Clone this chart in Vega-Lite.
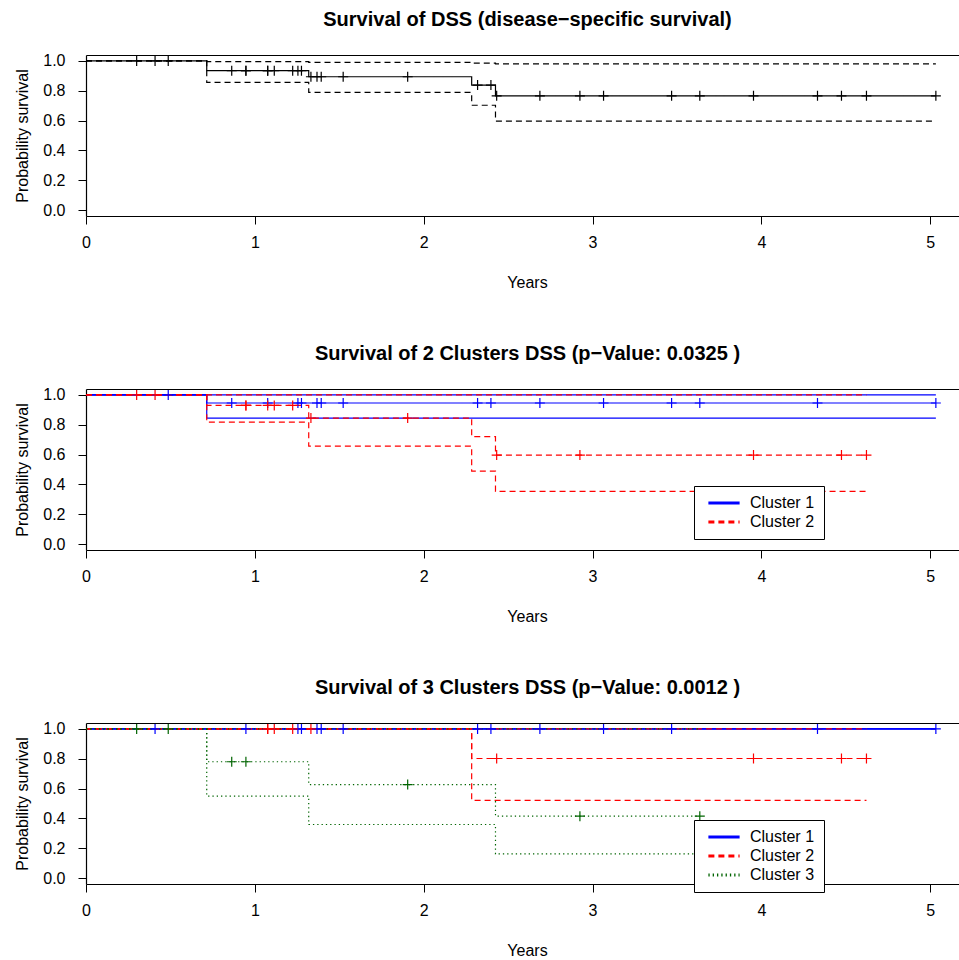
{
  "$schema": "https://vega.github.io/schema/vega-lite/v6.json",
  "padding": {"top": 9, "left": 14, "right": 0, "bottom": 0},
  "spacing": 53,
  "config": {
    "view": {"stroke": null},
    "font": "Liberation Sans",
    "axis": {
      "labelFont": "Liberation Sans",
      "labelFontSize": 16,
      "labelColor": "black",
      "titleFont": "Liberation Sans",
      "titleFontSize": 16,
      "titleFontWeight": "normal",
      "titleColor": "black",
      "domainColor": "black",
      "domainWidth": 1.2,
      "tickColor": "black",
      "tickSize": 8,
      "grid": false
    },
    "axisX": {"labelPadding": 10, "titlePadding": 24, "labelFlush": false},
    "axisY": {"labelPadding": 13, "titlePadding": 12, "labelFlush": false},
    "title": {
      "font": "Liberation Sans",
      "fontSize": 20,
      "fontWeight": "bold",
      "color": "black",
      "anchor": "middle",
      "baseline": "alphabetic",
      "offset": 23,
      "dx": 5
    },
    "legend": {
      "symbolType": "M-2.5,0L2.5,0",
      "symbolSize": 156,
      "symbolStrokeWidth": 3,
      "symbolOffset": 13,
      "labelFont": "Liberation Sans",
      "labelFontSize": 16,
      "labelColor": "black",
      "padding": 9,
      "rowPadding": 3,
      "labelOffset": 18,
      "fillColor": "white",
      "strokeColor": "black"
    }
  },
  "datasets": {
    "dss_curve": [
      {"band": "estimate", "t": 0, "s": 1},
      {"band": "estimate", "t": 0.715, "s": 0.935},
      {"band": "estimate", "t": 1.319, "s": 0.894},
      {"band": "estimate", "t": 2.284, "s": 0.838},
      {"band": "estimate", "t": 2.425, "s": 0.766},
      {"band": "estimate", "t": 5.033, "s": 0.766},
      {"band": "upper", "t": 0, "s": 1},
      {"band": "upper", "t": 0.715, "s": 0.995},
      {"band": "upper", "t": 1.319, "s": 0.99},
      {"band": "upper", "t": 2.284, "s": 0.985},
      {"band": "upper", "t": 2.425, "s": 0.98},
      {"band": "upper", "t": 5.033, "s": 0.98},
      {"band": "lower", "t": 0, "s": 1},
      {"band": "lower", "t": 0.715, "s": 0.856},
      {"band": "lower", "t": 1.319, "s": 0.789},
      {"band": "lower", "t": 2.284, "s": 0.703},
      {"band": "lower", "t": 2.425, "s": 0.597},
      {"band": "lower", "t": 5.033, "s": 0.597}
    ],
    "dss_cens": [
      {"t": 0.300, "s": 1}, {"t": 0.409, "s": 1}, {"t": 0.487, "s": 1},
      {"t": 0.863, "s": 0.935}, {"t": 0.947, "s": 0.935}, {"t": 0.947, "s": 0.935},
      {"t": 1.076, "s": 0.935}, {"t": 1.076, "s": 0.935}, {"t": 1.115, "s": 0.935},
      {"t": 1.224, "s": 0.935}, {"t": 1.255, "s": 0.935}, {"t": 1.276, "s": 0.935},
      {"t": 1.332, "s": 0.894}, {"t": 1.368, "s": 0.894}, {"t": 1.393, "s": 0.894},
      {"t": 1.523, "s": 0.894}, {"t": 1.905, "s": 0.894},
      {"t": 2.319, "s": 0.838}, {"t": 2.398, "s": 0.838},
      {"t": 2.432, "s": 0.766}, {"t": 2.688, "s": 0.766}, {"t": 2.925, "s": 0.766},
      {"t": 3.065, "s": 0.766}, {"t": 3.468, "s": 0.766}, {"t": 3.635, "s": 0.766},
      {"t": 3.953, "s": 0.766}, {"t": 4.332, "s": 0.766}, {"t": 4.474, "s": 0.766},
      {"t": 4.622, "s": 0.766}, {"t": 5.033, "s": 0.766}
    ],
    "k2_curve": [
      {"cluster": "Cluster 1", "band": "estimate", "t": 0, "s": 1},
      {"cluster": "Cluster 1", "band": "estimate", "t": 0.715, "s": 0.946},
      {"cluster": "Cluster 1", "band": "estimate", "t": 5.033, "s": 0.946},
      {"cluster": "Cluster 1", "band": "upper", "t": 0, "s": 1},
      {"cluster": "Cluster 1", "band": "upper", "t": 5.033, "s": 1},
      {"cluster": "Cluster 1", "band": "lower", "t": 0, "s": 1},
      {"cluster": "Cluster 1", "band": "lower", "t": 0.715, "s": 0.845},
      {"cluster": "Cluster 1", "band": "lower", "t": 5.033, "s": 0.845},
      {"cluster": "Cluster 2", "band": "estimate", "t": 0, "s": 1},
      {"cluster": "Cluster 2", "band": "estimate", "t": 0.715, "s": 0.930},
      {"cluster": "Cluster 2", "band": "estimate", "t": 1.319, "s": 0.845},
      {"cluster": "Cluster 2", "band": "estimate", "t": 2.284, "s": 0.720},
      {"cluster": "Cluster 2", "band": "estimate", "t": 2.425, "s": 0.597},
      {"cluster": "Cluster 2", "band": "estimate", "t": 4.622, "s": 0.597},
      {"cluster": "Cluster 2", "band": "upper", "t": 0, "s": 1},
      {"cluster": "Cluster 2", "band": "upper", "t": 4.622, "s": 1},
      {"cluster": "Cluster 2", "band": "lower", "t": 0, "s": 1},
      {"cluster": "Cluster 2", "band": "lower", "t": 0.715, "s": 0.818},
      {"cluster": "Cluster 2", "band": "lower", "t": 1.319, "s": 0.657},
      {"cluster": "Cluster 2", "band": "lower", "t": 2.284, "s": 0.489},
      {"cluster": "Cluster 2", "band": "lower", "t": 2.425, "s": 0.353},
      {"cluster": "Cluster 2", "band": "lower", "t": 4.622, "s": 0.353}
    ],
    "k2_cens": [
      {"cluster": "Cluster 1", "t": 0.487, "s": 1},
      {"cluster": "Cluster 1", "t": 0.863, "s": 0.946},
      {"cluster": "Cluster 1", "t": 1.076, "s": 0.946},
      {"cluster": "Cluster 1", "t": 1.255, "s": 0.946},
      {"cluster": "Cluster 1", "t": 1.276, "s": 0.946},
      {"cluster": "Cluster 1", "t": 1.368, "s": 0.946},
      {"cluster": "Cluster 1", "t": 1.393, "s": 0.946},
      {"cluster": "Cluster 1", "t": 1.523, "s": 0.946},
      {"cluster": "Cluster 1", "t": 2.319, "s": 0.946},
      {"cluster": "Cluster 1", "t": 2.398, "s": 0.946},
      {"cluster": "Cluster 1", "t": 2.688, "s": 0.946},
      {"cluster": "Cluster 1", "t": 3.065, "s": 0.946},
      {"cluster": "Cluster 1", "t": 3.468, "s": 0.946},
      {"cluster": "Cluster 1", "t": 3.635, "s": 0.946},
      {"cluster": "Cluster 1", "t": 4.332, "s": 0.946},
      {"cluster": "Cluster 1", "t": 5.033, "s": 0.946},
      {"cluster": "Cluster 2", "t": 0.300, "s": 1},
      {"cluster": "Cluster 2", "t": 0.409, "s": 1},
      {"cluster": "Cluster 2", "t": 0.947, "s": 0.930},
      {"cluster": "Cluster 2", "t": 0.947, "s": 0.930},
      {"cluster": "Cluster 2", "t": 1.076, "s": 0.930},
      {"cluster": "Cluster 2", "t": 1.115, "s": 0.930},
      {"cluster": "Cluster 2", "t": 1.224, "s": 0.930},
      {"cluster": "Cluster 2", "t": 1.332, "s": 0.845},
      {"cluster": "Cluster 2", "t": 1.905, "s": 0.845},
      {"cluster": "Cluster 2", "t": 2.432, "s": 0.597},
      {"cluster": "Cluster 2", "t": 2.925, "s": 0.597},
      {"cluster": "Cluster 2", "t": 3.953, "s": 0.597},
      {"cluster": "Cluster 2", "t": 4.474, "s": 0.597},
      {"cluster": "Cluster 2", "t": 4.622, "s": 0.597}
    ],
    "k3_curve": [
      {"cluster": "Cluster 1", "band": "estimate", "t": 0, "s": 1},
      {"cluster": "Cluster 1", "band": "estimate", "t": 5.033, "s": 1},
      {"cluster": "Cluster 1", "band": "upper", "t": 0, "s": 1},
      {"cluster": "Cluster 1", "band": "upper", "t": 5.033, "s": 1},
      {"cluster": "Cluster 1", "band": "lower", "t": 0, "s": 1},
      {"cluster": "Cluster 1", "band": "lower", "t": 5.033, "s": 1},
      {"cluster": "Cluster 2", "band": "estimate", "t": 0, "s": 1},
      {"cluster": "Cluster 2", "band": "estimate", "t": 2.284, "s": 0.802},
      {"cluster": "Cluster 2", "band": "estimate", "t": 4.622, "s": 0.802},
      {"cluster": "Cluster 2", "band": "upper", "t": 0, "s": 1},
      {"cluster": "Cluster 2", "band": "upper", "t": 4.622, "s": 1},
      {"cluster": "Cluster 2", "band": "lower", "t": 0, "s": 1},
      {"cluster": "Cluster 2", "band": "lower", "t": 2.284, "s": 0.521},
      {"cluster": "Cluster 2", "band": "lower", "t": 4.622, "s": 0.521},
      {"cluster": "Cluster 3", "band": "estimate", "t": 0, "s": 1},
      {"cluster": "Cluster 3", "band": "estimate", "t": 0.715, "s": 0.780},
      {"cluster": "Cluster 3", "band": "estimate", "t": 1.319, "s": 0.627},
      {"cluster": "Cluster 3", "band": "estimate", "t": 2.425, "s": 0.415},
      {"cluster": "Cluster 3", "band": "estimate", "t": 3.635, "s": 0.415},
      {"cluster": "Cluster 3", "band": "upper", "t": 0, "s": 1},
      {"cluster": "Cluster 3", "band": "upper", "t": 3.635, "s": 1},
      {"cluster": "Cluster 3", "band": "lower", "t": 0, "s": 1},
      {"cluster": "Cluster 3", "band": "lower", "t": 0.715, "s": 0.550},
      {"cluster": "Cluster 3", "band": "lower", "t": 1.319, "s": 0.359},
      {"cluster": "Cluster 3", "band": "lower", "t": 2.425, "s": 0.162},
      {"cluster": "Cluster 3", "band": "lower", "t": 3.635, "s": 0.162}
    ],
    "k3_cens": [
      {"cluster": "Cluster 1", "t": 0.409, "s": 1},
      {"cluster": "Cluster 1", "t": 0.947, "s": 1},
      {"cluster": "Cluster 1", "t": 1.255, "s": 1},
      {"cluster": "Cluster 1", "t": 1.276, "s": 1},
      {"cluster": "Cluster 1", "t": 1.368, "s": 1},
      {"cluster": "Cluster 1", "t": 1.393, "s": 1},
      {"cluster": "Cluster 1", "t": 1.523, "s": 1},
      {"cluster": "Cluster 1", "t": 2.319, "s": 1},
      {"cluster": "Cluster 1", "t": 2.398, "s": 1},
      {"cluster": "Cluster 1", "t": 2.688, "s": 1},
      {"cluster": "Cluster 1", "t": 3.065, "s": 1},
      {"cluster": "Cluster 1", "t": 3.468, "s": 1},
      {"cluster": "Cluster 1", "t": 4.332, "s": 1},
      {"cluster": "Cluster 1", "t": 5.033, "s": 1},
      {"cluster": "Cluster 2", "t": 1.076, "s": 1},
      {"cluster": "Cluster 2", "t": 1.076, "s": 1},
      {"cluster": "Cluster 2", "t": 1.115, "s": 1},
      {"cluster": "Cluster 2", "t": 1.224, "s": 1},
      {"cluster": "Cluster 2", "t": 1.332, "s": 1},
      {"cluster": "Cluster 2", "t": 2.432, "s": 0.802},
      {"cluster": "Cluster 2", "t": 3.953, "s": 0.802},
      {"cluster": "Cluster 2", "t": 4.474, "s": 0.802},
      {"cluster": "Cluster 2", "t": 4.622, "s": 0.802},
      {"cluster": "Cluster 3", "t": 0.300, "s": 1},
      {"cluster": "Cluster 3", "t": 0.487, "s": 1},
      {"cluster": "Cluster 3", "t": 0.863, "s": 0.780},
      {"cluster": "Cluster 3", "t": 0.947, "s": 0.780},
      {"cluster": "Cluster 3", "t": 1.905, "s": 0.627},
      {"cluster": "Cluster 3", "t": 2.925, "s": 0.415},
      {"cluster": "Cluster 3", "t": 3.635, "s": 0.415}
    ]
  },
  "vconcat": [
    {
      "width": 873,
      "height": 161,
      "title": {"text": "Survival of DSS (disease\u2212specific survival)"},
      "encoding": {
        "x": {"field": "t", "type": "quantitative", "scale": {"domain": [0, 5.17], "nice": false, "zero": false}, "axis": {"orient": "bottom", "values": [0, 1, 2, 3, 4, 5], "title": "Years", "titleX": 441}},
        "y": {"field": "s", "type": "quantitative", "scale": {"domain": [-0.04, 1.04], "nice": false, "zero": false}, "axis": {"values": [0, 0.2, 0.4, 0.6, 0.8, 1], "format": ".1f", "title": "Probability survival"}}
      },
      "layer": [
        {
          "data": {"name": "dss_curve"},
          "mark": {"type": "line", "interpolate": "step-after", "strokeWidth": 1.2, "color": "black"},
          "encoding": {
            "strokeDash": {"field": "band", "type": "nominal", "scale": {"domain": ["estimate", "upper", "lower"], "range": [[1, 0], [6, 4], [6, 4]]}, "legend": null}
          }
        },
        {
          "data": {"name": "dss_cens"},
          "mark": {"type": "point", "shape": "M-1,0L1,0M0,-1L0,1", "filled": false, "size": 100, "strokeWidth": 1.2, "color": "black", "opacity": 1},
          "encoding": {
            "x": {"field": "t", "type": "quantitative", "axis": {"orient": "top", "labels": false, "ticks": false, "title": null, "domain": true}}
          }
        }
      ]
    },
    {
      "width": 873,
      "height": 161,
      "title": {"text": "Survival of 2 Clusters DSS (p\u2212Value: 0.0325 )"},
      "encoding": {
        "x": {"field": "t", "type": "quantitative", "scale": {"domain": [0, 5.17], "nice": false, "zero": false}, "axis": {"orient": "bottom", "values": [0, 1, 2, 3, 4, 5], "title": "Years", "titleX": 441}},
        "y": {"field": "s", "type": "quantitative", "scale": {"domain": [-0.04, 1.04], "nice": false, "zero": false}, "axis": {"values": [0, 0.2, 0.4, 0.6, 0.8, 1], "format": ".1f", "title": "Probability survival"}}
      },
      "layer": [
        {
          "data": {"name": "k2_curve"},
          "mark": {"type": "line", "interpolate": "step-after", "strokeWidth": 1.2},
          "encoding": {
            "detail": {"field": "band", "type": "nominal"},
            "color": {"field": "cluster", "type": "nominal", "scale": {"domain": ["Cluster 1", "Cluster 2"], "range": ["#0000ff", "#ff0000"]}, "legend": {"orient": "none", "legendX": 608, "legendY": 97, "title": null, "zindex": 1}},
            "strokeDash": {"field": "cluster", "type": "nominal", "scale": {"domain": ["Cluster 1", "Cluster 2"], "range": [[1, 0], [6, 4]]}, "legend": {"orient": "none", "legendX": 608, "legendY": 97, "title": null, "zindex": 1}}
          }
        },
        {
          "data": {"name": "k2_cens"},
          "mark": {"type": "point", "shape": "M-1,0L1,0M0,-1L0,1", "filled": false, "size": 100, "strokeWidth": 1.2, "opacity": 1},
          "encoding": {
            "x": {"field": "t", "type": "quantitative", "axis": {"orient": "top", "labels": false, "ticks": false, "title": null, "domain": true}},
            "stroke": {"field": "cluster", "type": "nominal", "scale": {"domain": ["Cluster 1", "Cluster 2"], "range": ["#0000ff", "#ff0000"]}, "legend": null}
          }
        }
      ]
    },
    {
      "width": 873,
      "height": 161,
      "title": {"text": "Survival of 3 Clusters DSS (p\u2212Value: 0.0012 )"},
      "encoding": {
        "x": {"field": "t", "type": "quantitative", "scale": {"domain": [0, 5.17], "nice": false, "zero": false}, "axis": {"orient": "bottom", "values": [0, 1, 2, 3, 4, 5], "title": "Years", "titleX": 441}},
        "y": {"field": "s", "type": "quantitative", "scale": {"domain": [-0.04, 1.04], "nice": false, "zero": false}, "axis": {"values": [0, 0.2, 0.4, 0.6, 0.8, 1], "format": ".1f", "title": "Probability survival"}}
      },
      "layer": [
        {
          "data": {"name": "k3_curve"},
          "mark": {"type": "line", "interpolate": "step-after", "strokeWidth": 1.2},
          "encoding": {
            "detail": {"field": "band", "type": "nominal"},
            "color": {"field": "cluster", "type": "nominal", "scale": {"domain": ["Cluster 1", "Cluster 2", "Cluster 3"], "range": ["#0000ff", "#ff0000", "#006400"]}, "legend": {"orient": "none", "legendX": 608, "legendY": 97, "title": null, "zindex": 1}},
            "strokeDash": {"field": "cluster", "type": "nominal", "scale": {"domain": ["Cluster 1", "Cluster 2", "Cluster 3"], "range": [[1, 0], [6, 4], [1.3, 3]]}, "legend": {"orient": "none", "legendX": 608, "legendY": 97, "title": null, "zindex": 1}}
          }
        },
        {
          "data": {"name": "k3_cens"},
          "mark": {"type": "point", "shape": "M-1,0L1,0M0,-1L0,1", "filled": false, "size": 100, "strokeWidth": 1.2, "opacity": 1},
          "encoding": {
            "x": {"field": "t", "type": "quantitative", "axis": {"orient": "top", "labels": false, "ticks": false, "title": null, "domain": true}},
            "stroke": {"field": "cluster", "type": "nominal", "scale": {"domain": ["Cluster 1", "Cluster 2", "Cluster 3"], "range": ["#0000ff", "#ff0000", "#006400"]}, "legend": null}
          }
        }
      ]
    }
  ],
  "resolve": {
    "scale": {"x": "independent", "y": "independent", "color": "independent", "strokeDash": "independent", "stroke": "independent"},
    "axis": {"x": "independent", "y": "independent"},
    "legend": {"color": "independent", "strokeDash": "independent", "stroke": "independent"}
  }
}
